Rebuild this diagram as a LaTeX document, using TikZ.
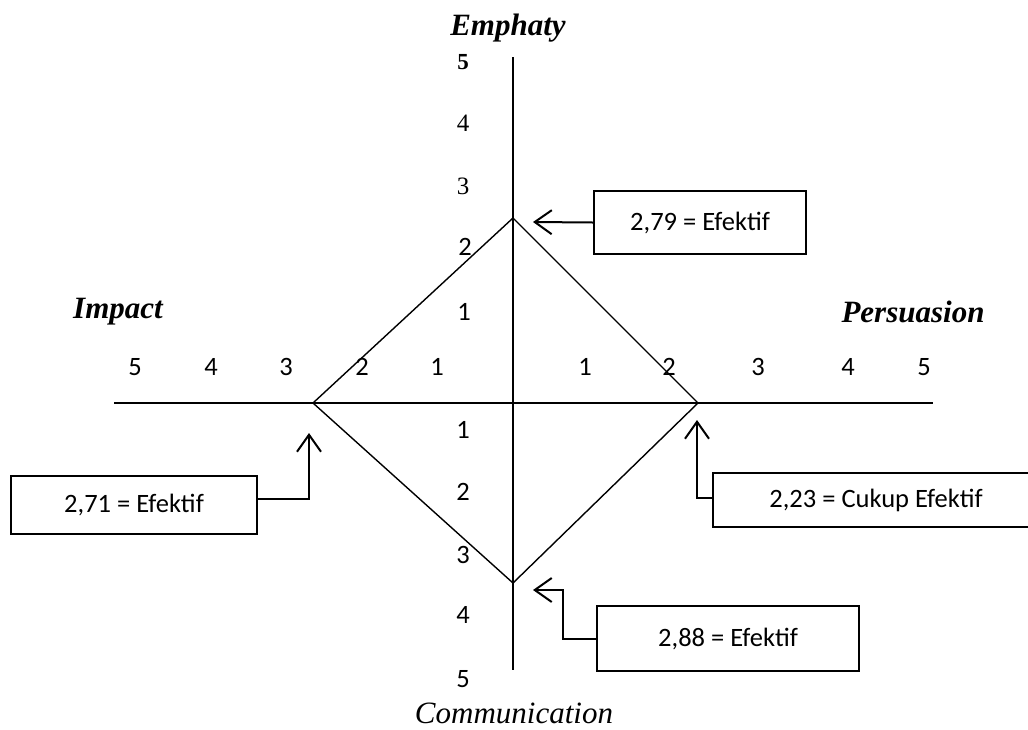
\documentclass[tikz,border=0pt]{standalone}
\usepackage{fontspec}
\setmainfont{Liberation Serif}
\newfontfamily\calibfont{Carlito}
\usetikzlibrary{arrows.meta}
\tikzstyle{block} = [rectangle, line width=2pt, inner sep=0pt, text centered, draw=black, font=\calibfont\fontsize{26.5}{30}\selectfont]
\tikzstyle{arrow} = [line width=2pt,-{Straight Barb[length=17pt,width=24pt,line width=2pt]}]
\tikzstyle{axis} = [line width=1.4pt]
\tikzstyle{title} = [inner sep=0pt, font=\bfseries\itshape\fontsize{31}{31}\selectfont]
\tikzstyle{num} = [inner sep=0pt, font=\calibfont\fontsize{26.5}{30}\selectfont]
\tikzstyle{numserif} = [inner sep=0pt, font=\fontsize{25}{28}\selectfont]

\begin{document}
\begin{tikzpicture}[x=1pt,y=-1pt]
\useasboundingbox (0,0) rectangle (1028,729);

% axes
\coordinate (top) at (513,57);
\coordinate (bottom) at (513,670);
\coordinate (left) at (114,403);
\coordinate (right) at (933,403);
\draw [axis] (top) -- (bottom);
\draw [axis] (left) -- (right);

% diamond
\coordinate (emp) at (513,218);
\coordinate (per) at (698,403);
\coordinate (com) at (513,583);
\coordinate (imp) at (313,403);
\draw [axis] (emp) -- (per) -- (com) -- (imp) -- cycle;

% axis titles
\node (emphaty) [title] at (508,28) {Emphaty};
\node (impact) [title] at (118,312) {Impact};
\node (persuasion) [title] at (913,312) {Persuasion};
\node (communication) [inner sep=0pt, font=\itshape\fontsize{31}{31}\selectfont] at (514,713) {Communication};

% vertical scale
\node (v5) [inner sep=0pt, font=\bfseries\fontsize{23}{26}\selectfont] at (463,62) {5};
\node (v4) [numserif] at (463,123) {4};
\node (v3) [numserif] at (463,186) {3};
\node (v2) [num] at (465,247) {2};
\node (v1) [num] at (464,312) {1};
\node (w1) [num] at (463,430) {1};
\node (w2) [num] at (463,492) {2};
\node (w3) [num] at (463,555) {3};
\node (w4) [num] at (463,615) {4};
\node (w5) [num] at (463,679) {5};

% horizontal scale
\node (h5) [num] at (135,367) {5};
\node (h4) [num] at (211,367) {4};
\node (h3) [num] at (286,367) {3};
\node (h2) [num] at (362,367) {2};
\node (h1) [num] at (437,367) {1};
\node (k1) [num] at (585,367) {1};
\node (k2) [num] at (669,367) {2};
\node (k3) [num] at (758,367) {3};
\node (k4) [num] at (848,367) {4};
\node (k5) [num] at (924,367) {5};

% score boxes
\node (box79) [block, minimum width=212pt, minimum height=63pt] at (700,222.5) {2,79 = Efektif};
\node (box71) [block, minimum width=246pt, minimum height=58pt] at (134,505) {2,71 = Efektif};
\node (box23) [block, minimum width=326pt, minimum height=54pt] at (876,500) {2,23 = Cukup Efektif};
\node (box88) [block, minimum width=262pt, minimum height=65pt] at (728,638.5) {2,88 = Efektif};

\coordinate (tip79) at (533,222);
\coordinate (tip71) at (309,433);
\coordinate (tip23) at (697,420);
\coordinate (bend88) at (563,590);
\coordinate (tip88) at (533,590);

\draw [arrow] (box79.west) -- (tip79);
\draw [arrow] ([yshift=6pt]box71.east) -| (tip71);
\draw [arrow] ([yshift=2pt]box23.west) -| (tip23);
\draw [arrow] (box88.west) -| (bend88) -- (tip88);
\end{tikzpicture}
\end{document}
